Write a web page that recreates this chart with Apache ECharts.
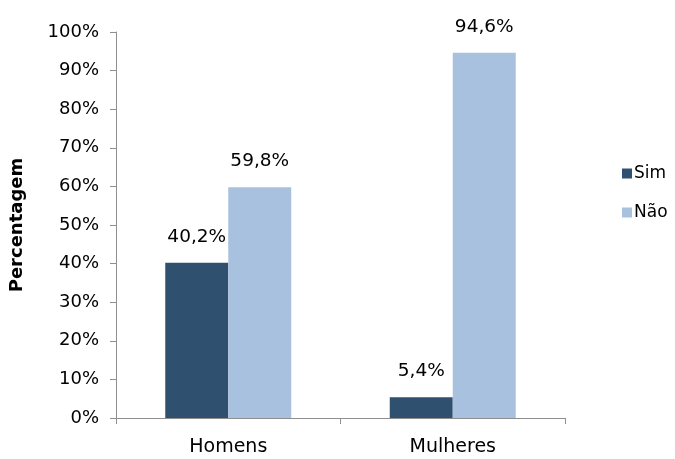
<!DOCTYPE html>
<html>
<head>
<meta charset="utf-8">
<script src="https://cdn.jsdelivr.net/npm/echarts@6/dist/echarts.min.js"></script>
<style>
  html, body { margin: 0; padding: 0; background: #fff; }
  #chart { width: 675px; height: 459px; }
</style>
</head>
<body>
<div id="chart"></div>
<script>
// Share answering "Sim" / "Não", by sex
const categories = ['Homens', 'Mulheres'];
const simValues = [40.2, 5.4];
const naoValues = [59.8, 94.6];
const seriesNames = ['Sim', 'Não'];
const yTicks = { min: 0, max: 100, interval: 10 };

const FONT = 'DejaVu Sans';
const axisGrey = '#8f8f8f';

function pct(v) {
  return v.toFixed(1).replace('.', ',') + '%';
}

const chart = echarts.init(document.getElementById('chart'), null, { renderer: 'canvas' });

const valueLabel = {
  show: true,
  position: 'top',
  distance: 16,
  fontFamily: FONT,
  fontSize: 18.5,
  color: '#000',
  formatter: p => pct(p.value)
};

chart.setOption({
  animation: false,
  backgroundColor: '#fff',
  textStyle: { fontFamily: FONT },
  grid: { left: 116, right: 110, top: 32, bottom: 41, containLabel: false },
  legend: {
    orient: 'vertical',
    left: 617,
    top: 160,
    itemWidth: 10,
    itemHeight: 10,
    itemGap: 22,
    icon: 'rect',
    textStyle: { fontFamily: FONT, fontSize: 17, color: '#000', padding: [0, 0, 0, -3] },
    data: seriesNames
  },
  xAxis: {
    type: 'category',
    data: categories,
    axisLine: { lineStyle: { color: axisGrey, width: 1 } },
    axisTick: { show: true, length: 6, lineStyle: { color: axisGrey } },
    axisLabel: { fontFamily: FONT, fontSize: 19, color: '#000', margin: 20 },
    splitLine: { show: false }
  },
  yAxis: {
    type: 'value',
    min: yTicks.min,
    max: yTicks.max,
    interval: yTicks.interval,
    name: 'Percentagem',
    nameLocation: 'middle',
    nameGap: 90,
    nameTextStyle: { fontFamily: FONT, fontSize: 18, fontWeight: 'bold', color: '#000' },
    axisLine: { show: true, lineStyle: { color: axisGrey, width: 1 } },
    axisTick: { show: true, length: 6, lineStyle: { color: axisGrey } },
    axisLabel: { fontFamily: FONT, fontSize: 18, color: '#000', margin: 17, formatter: v => v + '%' },
    splitLine: { show: false }
  },
  series: [
    {
      name: seriesNames[0],
      type: 'bar',
      data: simValues,
      barWidth: 63,
      barGap: '0%',
      itemStyle: { color: '#30506f' },
      label: valueLabel
    },
    {
      name: seriesNames[1],
      type: 'bar',
      data: naoValues,
      barWidth: 63,
      barGap: '0%',
      itemStyle: { color: '#a7c1de' },
      label: valueLabel
    }
  ]
});
</script>
</body>
</html>
